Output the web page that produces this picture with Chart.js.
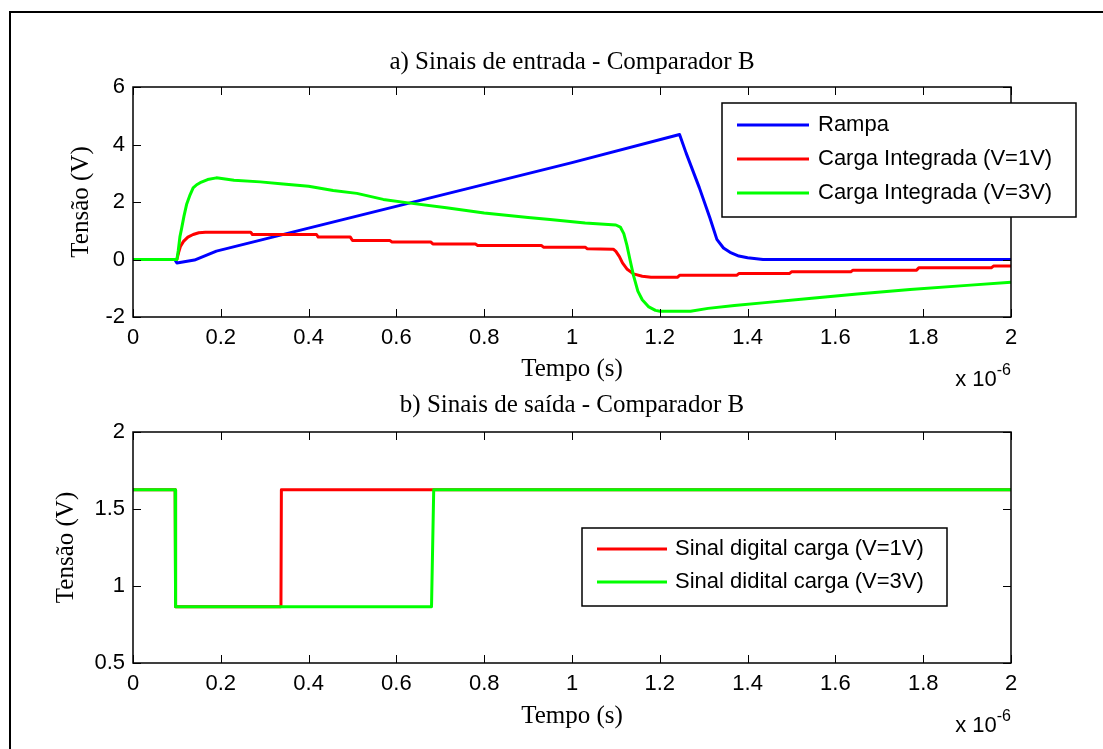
<!DOCTYPE html>
<html>
<head>
<meta charset="utf-8">
<script src="https://cdn.jsdelivr.net/npm/chart.js@4.4.1/dist/chart.umd.min.js"></script>
<style>
html,body{margin:0;padding:0;background:#fff;}
#page{position:relative;width:1103px;height:749px;overflow:hidden;background:#fff;}
#frame{position:absolute;left:9px;top:11px;width:1200px;height:900px;border:2px solid #000;}
#c0{position:absolute;left:0;top:0;}
#c1{position:absolute;left:0;top:390px;}
</style>
</head>
<body>
<div id="page">
<div id="frame"></div>
<canvas id="c0" width="1103" height="390"></canvas>
<canvas id="c1" width="1103" height="359"></canvas>
</div>
<script>
// time in microseconds (axis shows "x 10^-6")
const xTicks = [0, 0.2, 0.4, 0.6, 0.8, 1, 1.2, 1.4, 1.6, 1.8, 2];
const yTicksA = [-2, 0, 2, 4, 6];
const yTicksB = [0.5, 1, 1.5, 2];

// a) input signals
const rampaT = [0, 0.095, 0.1, 0.14, 0.19, 0.4, 0.7, 1.0, 1.245, 1.26, 1.29, 1.314, 1.33, 1.345, 1.36, 1.38, 1.4, 1.435, 2.0];
const rampaV = [0, 0, -0.12, -0.02, 0.29, 1.09, 2.23, 3.37, 4.35, 3.7, 2.5, 1.45, 0.7, 0.4, 0.25, 0.12, 0.06, 0, 0];

const carga1T = [0, 0.1, 0.104, 0.108, 0.115, 0.125, 0.137, 0.15, 0.165, 0.268,
  0.272, 0.418, 0.422, 0.495, 0.5, 0.585, 0.59, 0.678, 0.683, 0.78,
  0.785, 0.93, 0.935, 1.03, 1.035, 1.094, 1.1, 1.108, 1.115, 1.125,
  1.14, 1.16, 1.18, 1.24, 1.245, 1.375, 1.38, 1.495, 1.5, 1.635,
  1.64, 1.785, 1.79, 1.955, 1.96, 2.0];
const carga1V = [0, 0, 0.25, 0.45, 0.63, 0.78, 0.87, 0.93, 0.95, 0.95,
  0.87, 0.87, 0.78, 0.78, 0.66, 0.66, 0.61, 0.61, 0.54, 0.54,
  0.49, 0.49, 0.43, 0.43, 0.37, 0.36, 0.28, 0.1, -0.12, -0.33,
  -0.5, -0.58, -0.62, -0.62, -0.55, -0.55, -0.49, -0.49, -0.43, -0.43,
  -0.37, -0.37, -0.29, -0.29, -0.23, -0.23];

const carga3T = [0, 0.1, 0.103, 0.107, 0.111, 0.116, 0.122, 0.13, 0.137, 0.145,
  0.153, 0.17, 0.19, 0.21, 0.23, 0.29, 0.342, 0.4, 0.456, 0.51,
  0.57, 0.627, 0.714, 0.8, 0.9, 0.95, 1.03, 1.1, 1.11, 1.118,
  1.125, 1.132, 1.14, 1.15, 1.16, 1.175, 1.19, 1.2, 1.27, 1.31,
  1.37, 1.44, 1.54, 1.65, 1.77, 1.9, 2.0];
const carga3V = [0, 0, 0.3, 0.8, 1.1, 1.5, 1.91, 2.25, 2.49, 2.6,
  2.67, 2.78, 2.84, 2.8, 2.76, 2.7, 2.63, 2.55, 2.4, 2.3,
  2.09, 1.97, 1.8, 1.62, 1.46, 1.39, 1.27, 1.2, 1.13, 0.9,
  0.5, 0.0, -0.55, -1.1, -1.4, -1.65, -1.77, -1.8, -1.8, -1.7,
  -1.6, -1.5, -1.36, -1.2, -1.04, -0.9, -0.79];

// b) output signals
const dig1T = [0, 0.096, 0.097, 0.337, 0.338, 2.0];
const dig1V = [1.625, 1.625, 0.865, 0.865, 1.625, 1.625];
const dig3T = [0, 0.096, 0.097, 0.68, 0.685, 2.0];
const dig3V = [1.625, 1.625, 0.865, 0.865, 1.625, 1.625];

const pts = (t, v) => t.map((x, i) => ({x: x, y: v[i]}));
const fmt = v => String(Math.round(v * 10) / 10);

Chart.defaults.color = '#000';
Chart.defaults.font.family = '"Liberation Sans", Arial, sans-serif';
Chart.defaults.font.size = 22;

// matlab style box, inward ticks, legend inside and the x 10^-6 note
const matlabAxes = {
  id: 'matlabAxes',
  afterDraw(chart, args, o) {
    const ctx = chart.ctx, a = chart.chartArea;
    const xs = chart.scales.x, ys = chart.scales.y;
    ctx.save();
    ctx.strokeStyle = '#000';
    ctx.lineWidth = 1;
    ctx.beginPath();
    xs.ticks.forEach(t => {
      const px = Math.round(xs.getPixelForValue(t.value)) + 0.5;
      ctx.moveTo(px, a.bottom); ctx.lineTo(px, a.bottom - 8);
      ctx.moveTo(px, a.top); ctx.lineTo(px, a.top + 8);
    });
    ys.ticks.forEach(t => {
      const py = Math.round(ys.getPixelForValue(t.value)) + 0.5;
      ctx.moveTo(a.left, py); ctx.lineTo(a.left + 8, py);
      ctx.moveTo(a.right, py); ctx.lineTo(a.right - 8, py);
    });
    ctx.stroke();
    ctx.lineWidth = 1.5;
    ctx.strokeRect(a.left, a.top, a.right - a.left, a.bottom - a.top);

    // legend
    const L = o.legend;
    ctx.fillStyle = '#fff';
    ctx.fillRect(L.x, L.y, L.w, L.h);
    ctx.strokeRect(L.x, L.y, L.w, L.h);
    ctx.font = '22px "Liberation Sans", Arial, sans-serif';
    ctx.textBaseline = 'middle';
    ctx.textAlign = 'left';
    L.items.forEach((idx, i) => {
      const ds = chart.data.datasets[idx];
      const y = L.rows[i];
      ctx.strokeStyle = ds.borderColor;
      ctx.lineWidth = 3;
      ctx.beginPath();
      ctx.moveTo(L.x1, y); ctx.lineTo(L.x2, y);
      ctx.stroke();
      ctx.fillStyle = '#000';
      ctx.fillText(ds.label, L.tx, y);
    });

    // exponent note
    ctx.fillStyle = '#000';
    ctx.textBaseline = 'alphabetic';
    ctx.font = '16px "Liberation Sans", Arial, sans-serif';
    const sw = ctx.measureText('-6').width;
    ctx.textAlign = 'left';
    ctx.fillText('-6', a.right - sw, a.bottom + o.expSup);
    ctx.font = '22px "Liberation Sans", Arial, sans-serif';
    ctx.textAlign = 'right';
    ctx.fillText('x 10', a.right - sw, a.bottom + o.expBase);
    ctx.restore();
  }
};

function makeChart(id, datasets, cfg) {
  return new Chart(document.getElementById(id), {
    type: 'line',
    data: {datasets: datasets},
    plugins: [matlabAxes],
    options: {
      responsive: false,
      animation: false,
      layout: {padding: {left: 0, right: 92, top: 0, bottom: 0}},
      elements: {point: {radius: 0}, line: {tension: 0, borderWidth: 3, borderJoinStyle: 'round', borderCapStyle: 'round'}},
      plugins: {
        legend: {display: false},
        tooltip: {enabled: false},
        title: {
          display: true, text: cfg.title, fullSize: false,
          font: {family: '"Liberation Serif", "Times New Roman", serif', size: 25, weight: 'normal'},
          padding: cfg.titlePad
        },
        matlabAxes: cfg.extra
      },
      scales: {
        x: {
          type: 'linear', min: 0, max: 2,
          afterBuildTicks: ax => { ax.ticks = xTicks.map(v => ({value: v})); },
          afterFit: s => { s.height = cfg.xHeight; },
          grid: {display: false, drawTicks: false},
          border: {display: false},
          ticks: {padding: 8, maxRotation: 0, callback: fmt},
          title: {display: true, text: 'Tempo (s)', padding: {top: 0, bottom: cfg.xTitlePad},
            font: {family: '"Liberation Serif", "Times New Roman", serif', size: 25}}
        },
        y: {
          type: 'linear', min: cfg.yMin, max: cfg.yMax,
          afterBuildTicks: ax => { ax.ticks = cfg.yTicks.map(v => ({value: v})); },
          afterFit: s => { s.width = 133; },
          grid: {display: false, drawTicks: false},
          border: {display: false},
          ticks: {padding: 8, callback: fmt},
          title: {display: true, text: 'Tensão (V)', padding: {top: cfg.yTitlePad, bottom: 0},
            font: {family: '"Liberation Serif", "Times New Roman", serif', size: 25}}
        }
      }
    }
  });
}

makeChart('c0', [
  {label: 'Rampa', data: pts(rampaT, rampaV), borderColor: '#0000ff', order: 3},
  {label: 'Carga Integrada (V=1V)', data: pts(carga1T, carga1V), borderColor: '#ff0000', order: 2},
  {label: 'Carga Integrada (V=3V)', data: pts(carga3T, carga3V), borderColor: '#00ff00', order: 1}
], {
  title: 'a) Sinais de entrada - Comparador B',
  titlePad: {top: 47, bottom: 10},
  xHeight: 73, xTitlePad: 6, yTitlePad: 66,
  yMin: -2, yMax: 6, yTicks: yTicksA,
  extra: {
    legend: {x: 722, y: 103, w: 354, h: 114, rows: [125, 159, 193], items: [0, 1, 2], x1: 737, x2: 809, tx: 818},
    expBase: 69, expSup: 58
  }
});

makeChart('c1', [
  {label: 'Sinal digital carga (V=1V)', data: pts(dig1T, dig1V), borderColor: '#ff0000', order: 2},
  {label: 'Sinal didital carga (V=3V)', data: pts(dig3T, dig3V), borderColor: '#00ff00', order: 1}
], {
  title: 'b) Sinais de saída - Comparador B',
  titlePad: {top: 0, bottom: 12},
  xHeight: 86, xTitlePad: 18, yTitlePad: 51,
  yMin: 0.5, yMax: 2, yTicks: yTicksB,
  extra: {
    legend: {x: 582, y: 138, w: 365, h: 78, rows: [159, 192], items: [0, 1], x1: 597, x2: 667, tx: 675},
    expBase: 69, expSup: 58
  }
});
</script>
</body>
</html>
